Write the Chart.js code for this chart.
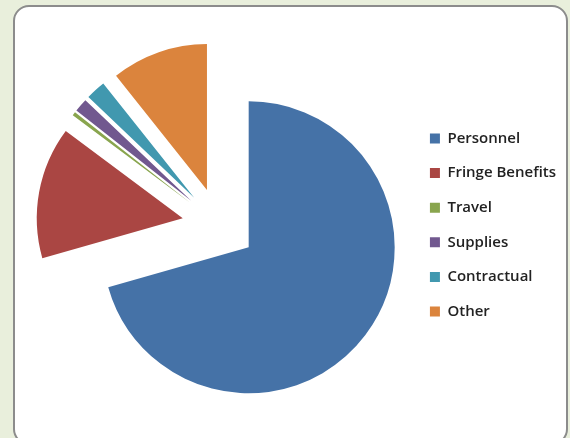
<!DOCTYPE html>
<html lang="en">
<head>
  <meta charset="UTF-8" />
  <title>Budget Breakdown</title>
  <script src="https://cdn.jsdelivr.net/npm/chart.js"></script>
  <style>
    html, body {
      margin: 0;
      padding: 0;
      width: 570px;
      height: 438px;
      overflow: hidden;
      background: #e9efdc;
    }
    .card {
      position: absolute;
      left: 13px;
      top: 5px;
      width: 555px;
      height: 440px;
      box-sizing: border-box;
      border: 2px solid #8c8c8c;
      border-radius: 16px;
      background: #fff;
    }
    canvas {
      display: block;
    }
  </style>
</head>
<body>
  <div class="card">
    <canvas id="budgetChart" width="551" height="436"></canvas>
  </div>

  <script>
    const categories = ["Personnel", "Fringe Benefits", "Travel", "Supplies", "Contractual", "Other"];
    const shares = [70.6, 14.6, 0.4, 1.5, 2.2, 10.7];
    const colors = ["#4572a7", "#aa4643", "#89a54e", "#71588f", "#4198af", "#db843d"];

    // every slice pulled out from the centre by the same distance
    const explodePx = 37;
    const explodeSlices = {
      id: "explodeSlices",
      afterDatasetUpdate(chart, args) {
        args.meta.data.forEach(arc => {
          const mid = (arc.startAngle + arc.endAngle) / 2;
          arc.x += Math.cos(mid) * explodePx;
          arc.y += Math.sin(mid) * explodePx;
        });
      }
    };

    const ctx = document.getElementById("budgetChart").getContext("2d");
    const chart = new Chart(ctx, {
      type: "pie",
      data: {
        labels: categories,
        datasets: [{
          data: shares,
          backgroundColor: colors,
          borderWidth: 0
        }]
      },
      options: {
        responsive: false,
        animation: false,
        radius: 146,
        events: [],
        layout: {
          padding: { left: 13, right: 0, top: 0, bottom: 0 }
        },
        plugins: {
          tooltip: { enabled: false },
          legend: {
            position: "right",
            labels: {
              boxWidth: 10,
              boxHeight: 10,
              padding: 19.6,
              color: "#222",
              font: { family: "Open Sans", size: 15, weight: "600" }
            }
          }
        }
      },
      plugins: [explodeSlices]
    });
  </script>
</body>
</html>
